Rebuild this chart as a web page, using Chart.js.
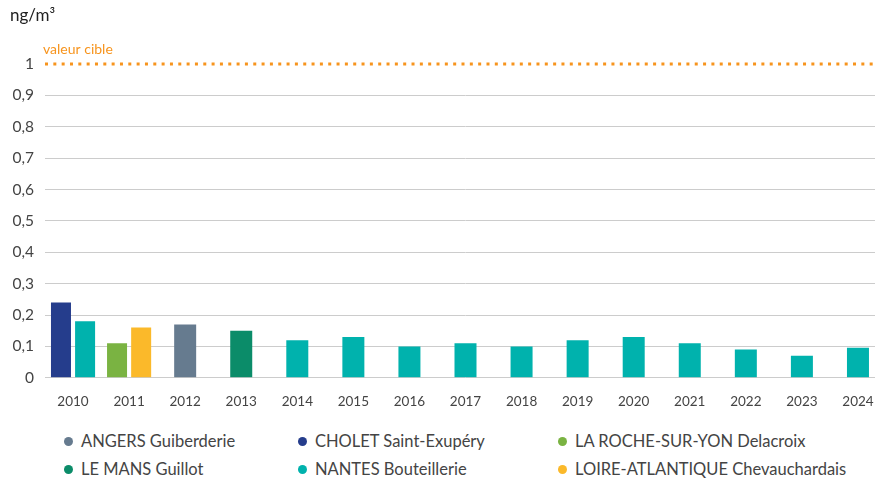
<!DOCTYPE html>
<html lang="fr">
<head>
<meta charset="utf-8">
<script src="https://cdn.jsdelivr.net/npm/chart.js@4.4.1/dist/chart.umd.min.js"></script>
<style>
  body { margin: 0; background: #fff; font-family: Lato, sans-serif; }
  #wrap { position: relative; width: 875px; height: 480px; overflow: hidden; }
  #chart { position: absolute; left: 0; top: 0; }
  .leg { position: absolute; font-size: 16.5px; color: #444; line-height: 20px; white-space: nowrap; }
  .leg i { display: inline-block; width: 9px; height: 9px; border-radius: 50%; margin-right: 8px; vertical-align: 1px; }
</style>
</head>
<body>
<div id="wrap">
  <!-- plot runs a little past the right edge so the last year sits at the border -->
  <canvas id="chart" width="886" height="426"></canvas>
  <div id="legend"></div>
</div>
<script>
const years = ['2010', '2011', '2012', '2013', '2014', '2015', '2016', '2017', '2018', '2019', '2020', '2021', '2022', '2023', '2024']

// mean concentrations per station, null where the station has no value that year
const angers = [null, null, 0.17, null, null, null, null, null, null, null, null, null, null, null, null]
const cholet = [0.24, null, null, null, null, null, null, null, null, null, null, null, null, null, null]
const laRoche = [null, 0.11, null, null, null, null, null, null, null, null, null, null, null, null, null]
const leMans = [null, null, null, 0.15, null, null, null, null, null, null, null, null, null, null, null]
const nantes = [0.18, null, null, null, 0.12, 0.13, 0.10, 0.11, 0.10, 0.12, 0.13, 0.11, 0.09, 0.07, 0.096]
const loireAtl = [null, 0.16, null, null, null, null, null, null, null, null, null, null, null, null, null]

const targetValue = 1
const yTicks = [0, 0.1, 0.2, 0.3, 0.4, 0.5, 0.6, 0.7, 0.8, 0.9, 1]

const series = [
  { label: 'ANGERS Guiberderie', data: angers, color: '#667b8f' },
  { label: 'CHOLET Saint-Exupéry', data: cholet, color: '#253d8c' },
  { label: 'LA ROCHE-SUR-YON Delacroix', data: laRoche, color: '#7ab342' },
  { label: 'LE MANS Guillot', data: leMans, color: '#0b8c69' },
  { label: 'NANTES Bouteillerie', data: nantes, color: '#00b2ad' },
  { label: 'LOIRE-ATLANTIQUE Chevauchardais', data: loireAtl, color: '#fbb92a' }
]

const fmt = v => String(Math.round(v * 10) / 10).replace('.', ',')

// dotted target line with its caption, plus the unit above the axis
const targetLine = {
  id: 'targetLine',
  afterDatasetsDraw (chart) {
    const { ctx, chartArea, scales } = chart
    const y = Math.round(scales.y.getPixelForValue(targetValue))
    ctx.save()
    ctx.strokeStyle = '#f7941d'
    ctx.lineWidth = 3
    ctx.setLineDash([3, 5.33])
    ctx.beginPath()
    ctx.moveTo(chartArea.left, y)
    ctx.lineTo(chartArea.right, y)
    ctx.stroke()
    ctx.setLineDash([])
    ctx.fillStyle = '#f7941d'
    ctx.font = '14px Lato'
    ctx.textBaseline = 'middle'
    ctx.fillText('valeur cible', 43, y - 15)
    ctx.fillStyle = '#222'
    ctx.font = '17px Lato'
    ctx.fillText('ng/m³', 10, 16)
    ctx.restore()
  }
}

const chart = new Chart(document.getElementById('chart'), {
  type: 'bar',
  data: {
    labels: years,
    datasets: series.map(s => ({
      label: s.label,
      data: s.data,
      backgroundColor: s.color,
      skipNull: true,
      categoryPercentage: 0.86,
      barPercentage: 0.83,
      maxBarThickness: 22
    }))
  },
  options: {
    responsive: false,
    animation: false,
    layout: { padding: { top: 64, right: 0, bottom: 8, left: 0 } },
    plugins: {
      legend: { display: false },
      tooltip: { enabled: false }
    },
    scales: {
      x: {
        grid: { display: false },
        border: { display: false },
        ticks: { color: '#444', font: { family: 'Lato', size: 13.5 }, padding: 8, maxRotation: 0, autoSkip: false }
      },
      y: {
        min: 0,
        max: 1,
        afterFit (scale) { scale.width = 45 },
        afterBuildTicks (scale) { scale.ticks = yTicks.map(v => ({ value: v })) },
        border: { display: false },
        grid: {
          drawTicks: false,
          color: c => c.tick && c.tick.value === targetValue ? 'rgba(0,0,0,0)' : '#cccccc'
        },
        ticks: { color: '#444', font: { family: 'Lato', size: 15.5 }, padding: 11, callback: v => fmt(v) }
      }
    }
  },
  plugins: [targetLine]
})

// legend in three columns under the chart
const cols = [64, 298, 558]
const rows = [431, 459]
document.getElementById('legend').innerHTML = chart.data.datasets.map((d, i) =>
  `<div class="leg" style="left:${cols[i % 3]}px;top:${rows[Math.floor(i / 3)]}px"><i style="background:${d.backgroundColor}"></i>${d.label}</div>`
).join('')
</script>
</body>
</html>
